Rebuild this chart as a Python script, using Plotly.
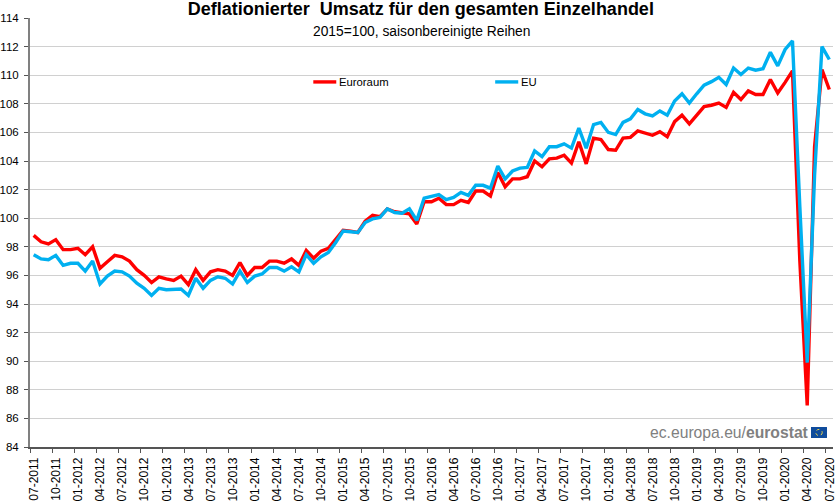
import pandas as pd
import plotly.graph_objects as go

# === DADOS ===
meses = [d.strftime('%m-%Y') for d in pd.date_range('2011-07-01', '2020-07-01', freq='MS')]

euroraum = [
    98.8, 98.35, 98.2, 98.5, 97.8, 97.8,
    97.9, 97.45, 98.0, 96.5, 96.95, 97.4, 97.3, 97.0, 96.4, 96.0, 95.5, 95.9,
    95.75, 95.65, 95.95, 95.35, 96.4, 95.65, 96.25, 96.4, 96.3, 96.0, 96.9, 96.0,
    96.55, 96.55, 97.0, 97.0, 96.85, 97.15, 96.7, 97.75, 97.2, 97.7, 97.9, 98.5,
    99.15, 99.1, 99.0, 99.8, 100.2, 100.1, 100.65, 100.45, 100.35, 100.3, 99.6, 101.15,
    101.15, 101.4, 100.95, 100.95, 101.25, 101.1, 101.9, 101.9, 101.55, 103.2, 102.2, 102.75,
    102.75, 102.9, 104.0, 103.6, 104.15, 104.2, 104.4, 103.85, 105.35, 103.8, 105.6, 105.5,
    104.8, 104.75, 105.6, 105.65, 106.1, 105.95, 105.8, 106.05, 105.7, 106.75, 107.2, 106.6,
    107.2, 107.8, 107.9, 108.05, 107.75, 108.8, 108.3, 108.9, 108.65, 108.65, 109.7, 108.75,
    109.5, 110.3, 97.0, 86.9, 105.0, 110.4, 109.0,
]
eu = [
    97.45, 97.15, 97.1, 97.4, 96.7, 96.85,
    96.85, 96.3, 97.0, 95.4, 95.95, 96.3, 96.25, 95.95, 95.45, 95.1, 94.6, 95.1,
    95.0, 95.0, 95.05, 94.6, 95.8, 95.1, 95.65, 95.9, 95.8, 95.4, 96.3, 95.5,
    95.95, 96.1, 96.55, 96.55, 96.3, 96.6, 96.25, 97.45, 96.85, 97.3, 97.6, 98.3,
    99.1, 99.05, 99.0, 99.7, 99.95, 100.05, 100.65, 100.4, 100.35, 100.65, 99.85, 101.4,
    101.5, 101.65, 101.3, 101.45, 101.8, 101.6, 102.3, 102.3, 102.1, 103.65, 102.75, 103.3,
    103.5, 103.55, 104.7, 104.3, 105.0, 105.0, 105.2, 104.9, 106.3, 104.9, 106.55, 106.7,
    106.0, 105.85, 106.7, 106.95, 107.6, 107.3, 107.15, 107.5, 107.2, 108.2, 108.7, 108.05,
    108.7, 109.3, 109.55, 109.85, 109.35, 110.5, 110.05, 110.5, 110.35, 110.45, 111.6, 110.65,
    111.8, 112.4, 100.8, 89.9, 103.0, 112.0, 111.1,
]
ticks_y = list(range(84, 116, 2))

VERMELHO = '#ff0000'
AZUL = '#00b0f0'
FONTE = 'Liberation Sans, Arial, sans-serif'

# eixo numerico: as marcas ficam na borda de cada mes, como no original
posicoes = list(range(len(meses)))
ticks_pos = [i - 0.5 for i in posicoes[::3]]
ticks_txt = meses[::3]

# === GRAFICO ===
fig = go.Figure()
fig.add_trace(go.Scatter(x=posicoes, y=euroraum, mode='lines', name='Euroraum',
                         line=dict(color=VERMELHO, width=3.4)))
fig.add_trace(go.Scatter(x=posicoes, y=eu, mode='lines', name='EU',
                         line=dict(color=AZUL, width=3.4)))

fig.update_layout(
    width=840, height=501,
    margin=dict(l=29.5, r=7, t=18, b=54, autoexpand=False),
    autosize=False,
    paper_bgcolor='white',
    plot_bgcolor='white',
    font=dict(family=FONTE, size=12, color='black'),
    title=dict(text='<b>Deflationierter  Umsatz für den gesamten Einzelhandel</b>',
               x=0.501, xanchor='center', xref='container', y=0.996, yanchor='top',
               pad=dict(t=0),
               font=dict(size=18, color='black')),
    showlegend=False,
)
fig.update_xaxes(
    range=[-0.5, len(meses) - 0.5], automargin=False,
    tickmode='array', tickvals=ticks_pos, ticktext=ticks_txt, tickangle=-90,
    tickfont=dict(size=12), ticks='outside', ticklen=4, tickcolor='#555555',
    showgrid=False, showline=True, linecolor='#555555', linewidth=1.5, zeroline=False,
    ticklabelshift=4,
)
fig.update_yaxes(
    range=[84, 114], tickmode='array', tickvals=ticks_y, automargin=False,
    tickfont=dict(size=11.5), ticks='outside', ticklen=4, tickcolor='#555555',
    ticklabelstandoff=3,
    showgrid=True, gridcolor='#d0d0d0', gridwidth=1,
    showline=True, linecolor='#808080', linewidth=2, zeroline=False,
)

# subtitulo, legenda manual e logo
fig.add_annotation(text='2015=100, saisonbereinigte Reihen', xref='paper', yref='paper',
                   x=0.488, y=1.0, xanchor='center', yanchor='middle', yshift=-13,
                   showarrow=False, font=dict(size=13.8))
fig.add_annotation(text='Euroraum', xref='paper', yref='paper', x=0.385, y=0.851,
                   xanchor='left', yanchor='middle', showarrow=False, font=dict(size=11.3),
                   xshift=-2)
fig.add_annotation(text='EU', xref='paper', yref='paper', x=0.6116, y=0.851,
                   xanchor='left', yanchor='middle', showarrow=False, font=dict(size=11.3),
                   xshift=-2)
fig.add_annotation(text='ec.europa.eu/<b>eurostat</b>', xref='paper', yref='paper',
                   x=0.9726, y=0.033, xanchor='right', yanchor='middle',
                   showarrow=False, font=dict(size=15.7, color='#808080'))
fig.add_shape(type='line', xref='paper', yref='paper', x0=0.3528, x1=0.3814, y0=0.851, y1=0.851,
              line=dict(color=VERMELHO, width=3.4))
fig.add_shape(type='line', xref='paper', yref='paper', x0=0.5793, x1=0.608, y0=0.851, y1=0.851,
              line=dict(color=AZUL, width=3.4))
fig.add_shape(type='rect', xref='paper', yref='paper', x0=0.9726, x1=0.9925, y0=0.021, y1=0.0466,
              line=dict(width=0), fillcolor='#0f4c9c')
fig.add_shape(type='circle', xref='paper', yref='paper', x0=0.9785, x1=0.9866, y0=0.0265, y1=0.041,
              line=dict(width=1, color='#e8d44d', dash='dot'))

# a pagina tem margem padrao de 8px no body
fig.write_html("out.html", config={'displayModeBar': False},
               post_script="document.body.style.margin='0';")
